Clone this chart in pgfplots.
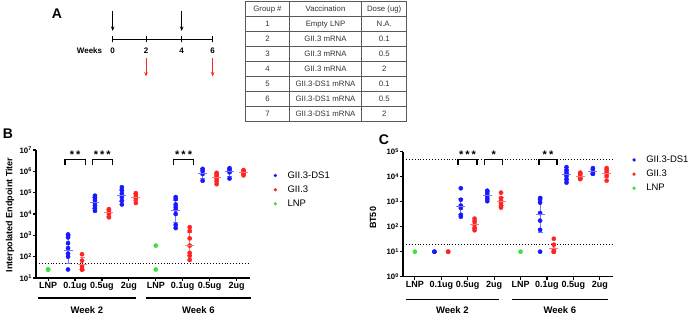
\documentclass[border=0pt]{standalone}
\usepackage{fontspec}
\setmainfont{Liberation Sans}
\usepackage{pgfplots}
\pgfplotsset{compat=1.18}
\usetikzlibrary{arrows.meta}
\definecolor{cb}{RGB}{25,25,255}
\definecolor{cr}{RGB}{255,35,35}
\definecolor{cg}{RGB}{60,225,60}
\definecolor{lb}{RGB}{120,120,255}
\definecolor{lr}{RGB}{255,120,120}
\definecolor{tg}{RGB}{50,50,50}
\definecolor{tl}{RGB}{90,90,90}
\pgfplotsset{
 myax/.style={
   scale only axis, clip=false,
   axis lines=left, axis line style={-, line width=1.2pt},
   every tick/.style={black, line width=1.1pt},
   major tick length=3pt, tick align=outside,
   xmin=-0.45, xmax=7.5, yminorticks=false,
   xtick={0,...,7}, xticklabels={LNP,0.1ug,0.5ug,2ug,LNP,0.1ug,0.5ug,2ug},
   xticklabel style={font=\bfseries\fontsize{9}{9}\selectfont, inner sep=1.5pt},
   yticklabel style={font=\bfseries\fontsize{7.8}{8}\selectfont, inner sep=1pt},
   legend style={draw=none, fill=none, font=\fontsize{9.5}{11}\selectfont, anchor=north west, row sep=2pt},
   legend cell align=left,
   legend image code/.code={\path (0pt,0pt) (14pt,0pt); \draw[##1, mark size=1.5pt] plot coordinates {(4pt,0pt)};},
 },
 pts/.style={only marks, mark=*, mark size=2.1pt, color=#1, mark options={draw=#1, fill=#1}},
 ebar/.style={color=#1, line width=0.8pt, mark=-, mark size=2.5pt, unbounded coords=jump, forget plot, mark options={solid, line width=0.8pt}},
 mbar/.style={color=#1, only marks, mark=-, mark size=4.5pt, mark options={line width=1pt}, forget plot},
 brk/.style={black, line width=1.2pt, forget plot, mark=none},
}
\newcommand{\stars}[1]{\bfseries\fontsize{11}{11}\selectfont #1}
\begin{document}
\begin{tikzpicture}
\useasboundingbox (0,0) rectangle (691pt,315pt);
% ---------------- Panel A ----------------
\begin{scope}[x=1pt,y=1pt]
\node[font=\bfseries\fontsize{14}{15}\selectfont] at (57,301) {A};
\draw[line width=0.9pt] (112.7,275.7) -- (212.7,275.7);
\foreach \xx in {112.7,146,181.7,212.7} \draw[line width=0.9pt] (\xx,272.5) -- (\xx,279);
\foreach \xx/\ll in {112.7/0,146/2,181.7/4,212.7/6} \node[font=\bfseries\fontsize{8}{9}\selectfont] at (\xx,264) {\ll};
\node[font=\bfseries\fontsize{8}{9}\selectfont] at (89.5,264) {Weeks};
\foreach \xx in {112.7,181.7} \draw[line width=0.8pt,-{Stealth[length=4.5pt,width=3.5pt]}] (\xx,303.5) -- (\xx,284);
\foreach \xx in {146,212.7} \draw[cr,line width=0.8pt,-{Stealth[length=4.5pt,width=3.5pt]}] (\xx,256.7) -- (\xx,238.5);
% table
\draw[tl,line width=0.7pt] (245.7,193.3) rectangle (406.7,313.3);
\draw[tl,line width=0.7pt] (289.3,193.3) -- (289.3,313.3);
\draw[tl,line width=0.7pt] (361.7,193.3) -- (361.7,313.3);
\foreach \k in {1,...,7} \draw[tl,line width=0.7pt] (245.7,313.3-15*\k) -- (406.7,313.3-15*\k);
\begin{scope}[every node/.style={font=\fontsize{7.8}{8}\selectfont, text=tg}]
\node at (267.5,305.8) {Group \#}; \node at (325.5,305.8) {Vaccination}; \node at (384.2,305.8) {Dose (ug)};
\node at (267.5,290.8) {1}; \node at (325.5,290.8) {Empty LNP}; \node at (384.2,290.8) {N.A.};
\node at (267.5,275.8) {2}; \node at (325.5,275.8) {GII.3 mRNA}; \node at (384.2,275.8) {0.1};
\node at (267.5,260.8) {3}; \node at (325.5,260.8) {GII.3 mRNA}; \node at (384.2,260.8) {0.5};
\node at (267.5,245.8) {4}; \node at (325.5,245.8) {GII.3 mRNA}; \node at (384.2,245.8) {2};
\node at (267.5,230.8) {5}; \node at (325.5,230.8) {GII.3-DS1 mRNA}; \node at (384.2,230.8) {0.1};
\node at (267.5,215.8) {6}; \node at (325.5,215.8) {GII.3-DS1 mRNA}; \node at (384.2,215.8) {0.5};
\node at (267.5,200.8) {7}; \node at (325.5,200.8) {GII.3-DS1 mRNA}; \node at (384.2,200.8) {2};
\end{scope}
\node[font=\bfseries\fontsize{14}{15}\selectfont] at (8,181) {B};
\node[font=\bfseries\fontsize{14}{15}\selectfont] at (384,175) {C};
\node[font=\bfseries\fontsize{9}{10}\selectfont, rotate=90] at (10,100) {Interpolated Endpoint Titer};
\node[font=\bfseries\fontsize{9}{10}\selectfont, rotate=90] at (373,97) {BT50};
\end{scope}
% ---------------- Panel B ----------------
\begin{axis}[myax, ymode=log, at={(36pt,37pt)}, anchor=south west, width=214pt, height=128pt,
  ymin=10, ymax=1e7,
  ytick={10,100,1000,10000,100000,1000000,10000000},
  yticklabels={10\textsuperscript{1},10\textsuperscript{2},10\textsuperscript{3},10\textsuperscript{4},10\textsuperscript{5},10\textsuperscript{6},10\textsuperscript{7}},
  legend style={at={(axis description cs:1.084,0.865)}},
]
\addplot[ebar=lb] coordinates {(0.74,50) (0.74,1000) (0.74,nan) (1.74,19000) (1.74,60000) (1.74,nan) (2.74,40000) (2.74,140000) (2.74,nan)
  (4.74,4000) (4.74,45000) (4.74,nan) (5.74,450000) (5.74,1300000) (5.74,nan) (6.74,600000) (6.74,1400000)};
\addplot[ebar=lr] coordinates {(1.26,22) (1.26,90) (1.26,nan) (2.26,8000) (2.26,16000) (2.26,nan) (3.26,42000) (3.26,90000) (3.26,nan)
  (5.26,120) (5.26,1300) (5.26,nan) (6.26,320000) (6.26,750000) (6.26,nan) (7.26,700000) (7.26,1050000)};
\addplot[pts=cb] coordinates {
  (0.74,1100) (0.74,800) (0.74,430) (0.74,250) (0.74,140) (0.74,100) (0.74,25)
  (1.74,72000) (1.74,58000) (1.74,45000) (1.74,33000) (1.74,25000) (1.74,19000) (1.74,14000)
  (2.74,180000) (2.74,130000) (2.74,90000) (2.74,62000) (2.74,42000) (2.74,28000)
  (4.74,62000) (4.74,50000) (4.74,28000) (4.74,21000) (4.74,16000) (4.74,10000) (4.74,3100) (4.74,2200)
  (5.74,1300000) (5.74,1050000) (5.74,750000) (5.74,360000)
  (6.74,1400000) (6.74,1150000) (6.74,900000) (6.74,460000)};
\addlegendentry{GII.3-DS1}
\addplot[pts=cr] coordinates {
  (1.26,130) (1.26,65) (1.26,35) (1.26,25) (1.26,25) (1.26,25)
  (2.26,17000) (2.26,14500) (2.26,12000) (2.26,10000) (2.26,7000)
  (3.26,95000) (3.26,82000) (3.26,66000) (3.26,52000) (3.26,33000)
  (5.26,2400) (5.26,1600) (5.26,720) (5.26,330) (5.26,150) (5.26,110) (5.26,70)
  (6.26,850000) (6.26,700000) (6.26,560000) (6.26,440000) (6.26,340000) (6.26,250000)
  (7.26,1150000) (7.26,1000000) (7.26,880000) (7.26,760000) (7.26,650000)};
\addlegendentry{GII.3}
\addplot[pts=cg] coordinates {(0,25) (0,25) (4,330) (4,25)};
\addlegendentry{LNP}
\addplot[mbar=lb] coordinates {(0.74,200) (1.74,33000) (2.74,75000) (4.74,14000) (5.74,800000) (6.74,950000)};
\addplot[mbar=lr] coordinates {(1.26,42) (2.26,11500) (3.26,62000) (5.26,350) (6.26,500000) (7.26,870000)};
\addplot[black, dotted, line width=0.9pt, forget plot] coordinates {(-0.45,50) (7.5,50)};
\addplot[brk] coordinates {(0.63,2e6) (0.63,3.6e6) (1.38,3.6e6) (1.38,2e6)};
\addplot[brk] coordinates {(1.64,2e6) (1.64,3.6e6) (2.39,3.6e6) (2.39,2e6)};
\addplot[brk] coordinates {(4.66,2e6) (4.66,3.6e6) (5.41,3.6e6) (5.41,2e6)};
\node[font=\stars{}, anchor=south, inner sep=1pt] at (axis cs:1.0,3.6e6) {*\hspace{2pt}*};
\node[font=\stars{}, anchor=south, inner sep=1pt] at (axis cs:2.015,3.6e6) {*\hspace{2pt}*\hspace{2pt}*};
\node[font=\stars{}, anchor=south, inner sep=1pt] at (axis cs:5.035,3.6e6) {*\hspace{2pt}*\hspace{2pt}*};
\draw[line width=1.2pt] ([yshift=-20pt]axis cs:-0.37,10) -- ([yshift=-20pt]axis cs:3.25,10);
\draw[line width=1.2pt] ([yshift=-20pt]axis cs:3.62,10) -- ([yshift=-20pt]axis cs:7.54,10);
\node[font=\bfseries\fontsize{9.5}{10}\selectfont] at ([yshift=-32pt]axis cs:1.44,10) {Week 2};
\node[font=\bfseries\fontsize{9.5}{10}\selectfont] at ([yshift=-32pt]axis cs:5.58,10) {Week 6};
\end{axis}
% ---------------- Panel C ----------------
\begin{axis}[myax, ymode=log, at={(403pt,38.3pt)}, anchor=south west, width=210pt, height=125pt,
  ymin=1, ymax=1e5,
  ytick={1,10,100,1000,10000,100000},
  yticklabels={10\textsuperscript{0},10\textsuperscript{1},10\textsuperscript{2},10\textsuperscript{3},10\textsuperscript{4},10\textsuperscript{5}},
  legend style={at={(axis description cs:1.065,1.0)}},
]
\addplot[ebar=lb] coordinates {(1.74,300) (1.74,1400) (1.74,nan) (2.74,1200) (2.74,2500) (2.74,nan)
  (4.74,60) (4.74,1500) (4.74,nan) (5.74,7200) (5.74,19000) (5.74,nan) (6.74,12000) (6.74,20000)};
\addplot[ebar=lr] coordinates {(2.26,85) (2.26,180) (2.26,nan) (3.26,680) (3.26,1500) (3.26,nan)
  (5.26,9) (5.26,22) (5.26,nan) (6.26,8200) (6.26,13000) (6.26,nan) (7.26,9000) (7.26,20000)};
\addplot[pts=cb] coordinates {
  (0.74,10) (0.74,10)
  (1.74,3450) (1.74,1200) (1.74,700) (1.74,560) (1.74,300) (1.74,250)
  (2.74,2750) (2.74,2200) (2.74,1750) (2.74,1400) (2.74,1050)
  (4.74,1400) (4.74,1200) (4.74,920) (4.74,350) (4.74,175) (4.74,75) (4.74,10)
  (5.74,24000) (5.74,17500) (5.74,14000) (5.74,10800) (5.74,8000) (5.74,5800)
  (6.74,22000) (6.74,16000) (6.74,13500) (6.74,13000)};
\addlegendentry{GII.3-DS1}
\addplot[pts=cr] coordinates {
  (1.26,10) (1.26,10)
  (2.26,210) (2.26,160) (2.26,120) (2.26,90) (2.26,72)
  (3.26,2300) (3.26,1400) (3.26,1080) (3.26,880) (3.26,700) (3.26,580)
  (5.26,33) (5.26,19) (5.26,12) (5.26,10) (5.26,10)
  (6.26,14500) (6.26,12000) (6.26,10000) (6.26,8800) (6.26,8000)
  (7.26,22000) (7.26,17000) (7.26,14000) (7.26,10800) (7.26,7000)};
\addlegendentry{GII.3}
\addplot[pts=cg] coordinates {(0,10) (4,10)};
\addlegendentry{LNP}
\addplot[mbar=lb] coordinates {(1.74,650) (2.74,1750) (4.74,300) (5.74,12000) (6.74,15500)};
\addplot[mbar=lr] coordinates {(2.26,125) (3.26,1000) (5.26,14) (6.26,10500) (7.26,13500)};
\addplot[black, dotted, line width=0.9pt, forget plot] coordinates {(-0.45,50000) (7.5,50000)};
\addplot[black, dotted, line width=0.9pt, forget plot] coordinates {(-0.45,20) (7.5,20)};
\addplot[brk] coordinates {(1.63,29500) (1.63,50000) (2.35,50000) (2.35,29500)};
\addplot[brk] coordinates {(2.65,29500) (2.65,50000) (3.33,50000) (3.33,29500)};
\addplot[brk] coordinates {(4.70,29500) (4.70,50000) (5.38,50000) (5.38,29500)};
\node[font=\stars{}, anchor=south, inner sep=1pt] at (axis cs:1.99,50000) {*\hspace{2pt}*\hspace{2pt}*};
\node[font=\stars{}, anchor=south, inner sep=1pt] at (axis cs:2.99,50000) {*};
\node[font=\stars{}, anchor=south, inner sep=1pt] at (axis cs:5.04,50000) {*\hspace{2pt}*};
\draw[line width=1.2pt] ([yshift=-22.6pt]axis cs:-0.34,1) -- ([yshift=-22.6pt]axis cs:3.18,1);
\draw[line width=1.2pt] ([yshift=-22.6pt]axis cs:3.66,1) -- ([yshift=-22.6pt]axis cs:7.31,1);
\node[font=\bfseries\fontsize{9.5}{10}\selectfont] at ([yshift=-33pt]axis cs:1.42,1) {Week 2};
\node[font=\bfseries\fontsize{9.5}{10}\selectfont] at ([yshift=-33pt]axis cs:5.49,1) {Week 6};
\end{axis}
\end{tikzpicture}
\end{document}
